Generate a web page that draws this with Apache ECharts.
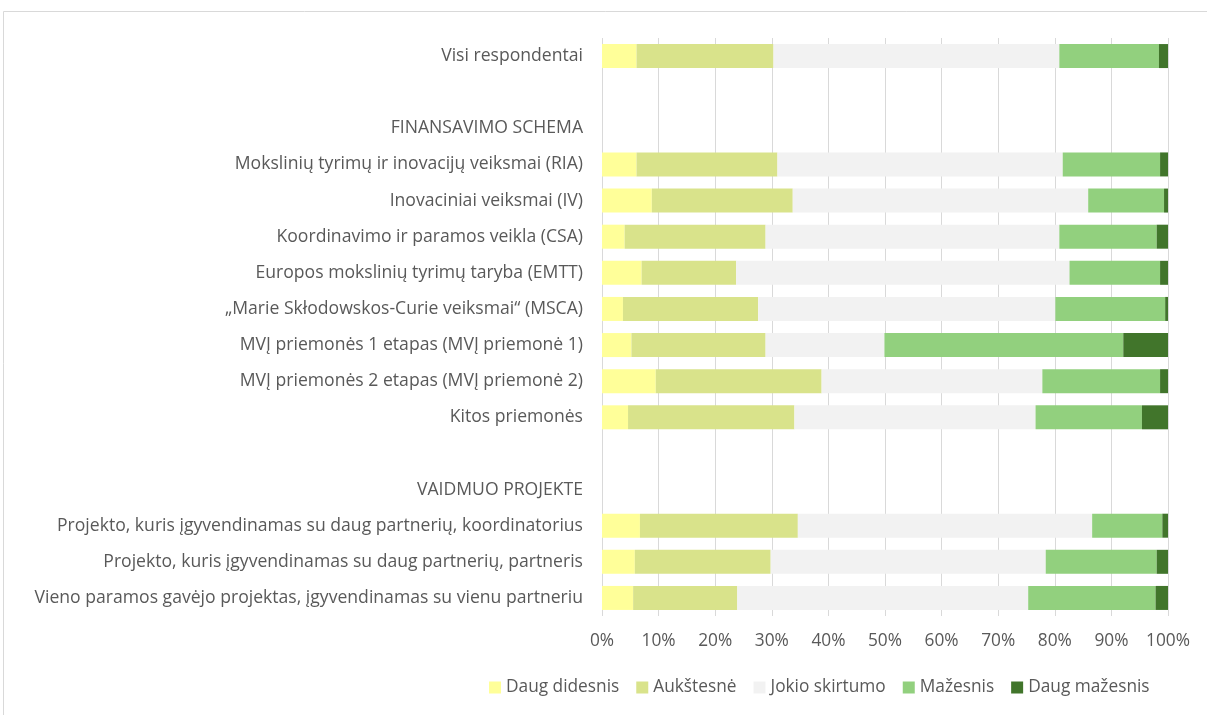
<!DOCTYPE html>
<html>
<head>
<meta charset="utf-8">
<script src="https://cdn.jsdelivr.net/npm/echarts@6/dist/echarts.min.js"></script>
<style>
html,body{margin:0;padding:0;background:#fff;}
#chart{width:1207px;height:715px;}
</style>
</head>
<body>
<div id="chart"></div>
<script>
const categories = [
  'Visi respondentai',
  ' ',
  'FINANSAVIMO SCHEMA',
  'Mokslinių tyrimų ir inovacijų veiksmai (RIA)',
  'Inovaciniai veiksmai (IV)',
  'Koordinavimo ir paramos veikla (CSA)',
  'Europos mokslinių tyrimų taryba (EMTT)',
  '„Marie Skłodowskos-Curie veiksmai“ (MSCA)',
  'MVĮ priemonės 1 etapas (MVĮ priemonė 1)',
  'MVĮ priemonės 2 etapas (MVĮ priemonė 2)',
  'Kitos priemonės',
  '  ',
  'VAIDMUO PROJEKTE',
  'Projekto, kuris įgyvendinamas su daug partnerių, koordinatorius',
  'Projekto, kuris įgyvendinamas su daug partnerių, partneris',
  'Vieno paramos gavėjo projektas, įgyvendinamas su vienu partneriu'
];
const seriesNames = ['Daug didesnis', 'Aukštesnė', 'Jokio skirtumo', 'Mažesnis', 'Daug mažesnis'];
const daugDidesnis = [6.1, null, null, 6.1, 8.8, 4.0, 7.0, 3.7, 5.2, 9.5, 4.6, null, null, 6.7, 5.8, 5.5];
const aukstesne    = [24.2, null, null, 24.9, 24.9, 24.9, 16.7, 23.9, 23.7, 29.3, 29.4, null, null, 27.9, 24.0, 18.4];
const jokioSkirtumo= [50.5, null, null, 50.4, 52.2, 51.9, 58.9, 52.5, 21.0, 39.0, 42.6, null, null, 52.0, 48.6, 51.4];
const mazesnis     = [17.6, null, null, 17.2, 13.4, 17.2, 16.0, 19.4, 42.2, 20.8, 18.8, null, null, 12.4, 19.6, 22.5];
const daugMazesnis = [1.6, null, null, 1.4, 0.7, 2.0, 1.4, 0.5, 7.9, 1.4, 4.6, null, null, 1.0, 2.0, 2.2];
const xTicks = [0, 10, 20, 30, 40, 50, 60, 70, 80, 90, 100];
const colors = ['#FFFF99', '#D9E38B', '#F2F2F2', '#92D07E', '#41752B'];

const allData = [daugDidesnis, aukstesne, jokioSkirtumo, mazesnis, daugMazesnis];
const chart = echarts.init(document.getElementById('chart'), null, {renderer: 'canvas'});
const fontFam = '"Open Sans", Lato, sans-serif';
chart.setOption({
  animation: false,
  backgroundColor: '#fff',
  graphic: [{
    type: 'polyline',
    shape: {points: [[3.5, 720], [3.5, 11.5], [1210, 11.5]]},
    style: {stroke: '#D9D9D9', lineWidth: 1, fill: null},
    silent: true
  }],
  grid: {left: 602, right: 39, top: 38, bottom: 99, containLabel: false},
  legend: {
    bottom: 14,
    left: 484,
    itemWidth: 12,
    itemHeight: 12,
    itemGap: 17,
    icon: 'rect',
    textStyle: {color: '#595959', fontSize: 17.3, fontFamily: fontFam},
    data: seriesNames
  },
  xAxis: {
    type: 'value',
    min: xTicks[0],
    max: xTicks[xTicks.length - 1],
    interval: 10,
    axisLine: {show: false},
    axisTick: {show: false},
    splitLine: {show: true, lineStyle: {color: '#D9D9D9', width: 1}},
    axisLabel: {color: '#595959', fontSize: 17.3, fontFamily: fontFam, margin: 17, formatter: '{value}%'}
  },
  yAxis: {
    type: 'category',
    inverse: true,
    data: categories,
    axisLine: {show: false},
    axisTick: {show: false},
    axisLabel: {color: '#595959', fontSize: 17.6, fontFamily: fontFam, margin: 19}
  },
  series: seriesNames.map((n, i) => ({
    name: n,
    type: 'bar',
    stack: 'total',
    barWidth: 24,
    itemStyle: {color: colors[i]},
    data: allData[i]
  }))
});
</script>
</body>
</html>
